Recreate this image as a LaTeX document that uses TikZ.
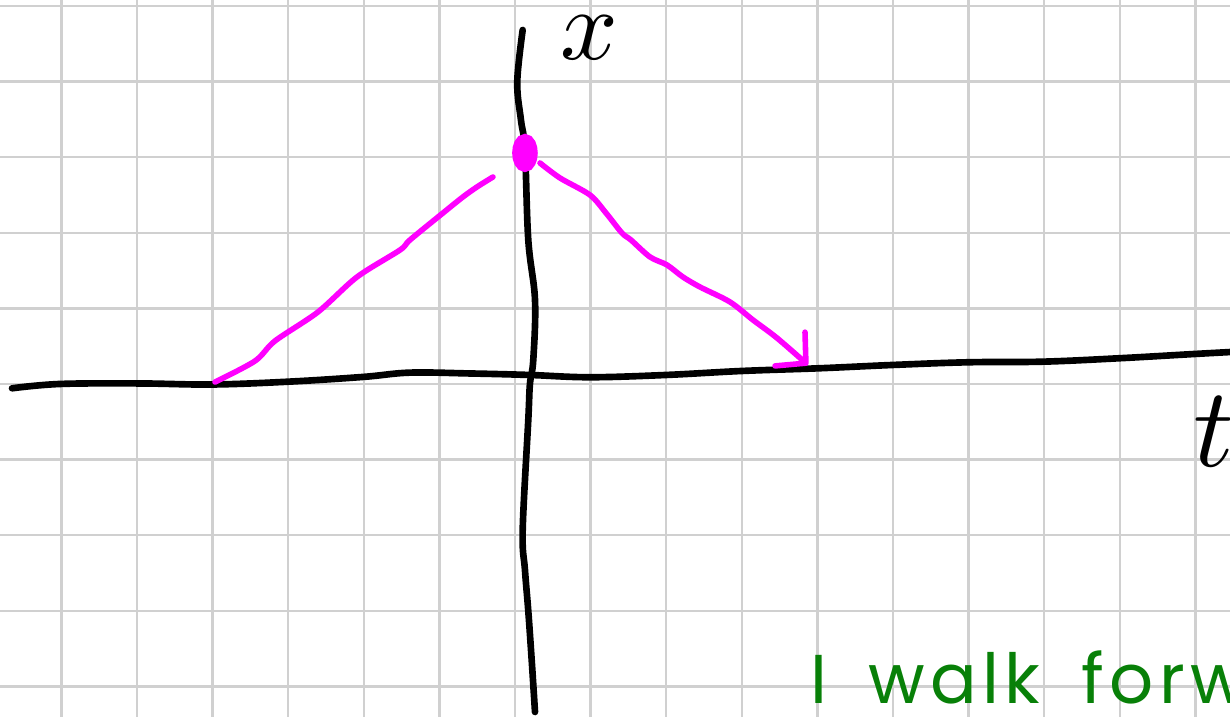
\documentclass[tikz,border=0pt]{standalone}
\usepackage{fontspec}
\newfontfamily\handfont[WordSpace=1.7,LetterSpace=8]{Poppins}
\usetikzlibrary{arrows.meta,shapes.geometric}
\definecolor{penpink}{RGB}{255,0,255}
\definecolor{pengreen}{RGB}{8,128,8}
\definecolor{gridgray}{RGB}{208,208,208}

\begin{document}
\begin{tikzpicture}[
  paper/.style={draw=gridgray,line width=0.9pt},
  axis/.style={line width=2.5pt,line cap=round,line join=round},
  walk/.style={draw=penpink,line width=2.1pt,line cap=round,line join=round},
  dot/.style={ellipse,draw=penpink,line width=4.8pt,inner sep=0pt,minimum width=0.17cm,minimum height=0.33cm},
  varlabel/.style={inner sep=0pt,scale=3.8,transform shape},
  note/.style={text=pengreen,anchor=base west,inner sep=0pt,
    font=\handfont\fontsize{26}{28}\selectfont}
]
  \useasboundingbox (-6.812,-4.405) rectangle (9.458,5.079);
  \clip (-6.812,-4.405) rectangle (9.458,5.079);
  \fill[white] (-6.812,-4.405) rectangle (9.458,5.079);
  \draw[paper] (-6.812,-4.405) grid (9.458,5.079);

  \draw[axis] plot[smooth,tension=0.6] coordinates {(-6.653,-0.057) (-6.019,0) (-4.96,0.007)
    (-4.008,-0.007) (-3.003,0.030) (-2.011,0.093) (-1.389,0.150) (-0.595,0.139) (0.198,0.119)
    (0.992,0.089) (1.997,0.119) (3.003,0.172) (4.034,0.208) (4.987,0.251) (5.992,0.287)
    (6.984,0.295) (7.989,0.340) (8.995,0.397) (9.6,0.43)};
  \draw[axis] plot[smooth,tension=0.6] coordinates {(0.102,4.683) (0.030,3.995) (0.079,3.492)
    (0.132,3.095) (0.176,1.905) (0.265,1.111) (0.242,0.317) (0.198,0) (0.176,-0.476)
    (0.102,-1.931) (0.132,-2.460) (0.176,-3.003) (0.221,-3.651) (0.265,-4.339)};

  \node[varlabel] (xlabel) at (0.99,4.58) {$x$};
  \node[varlabel,scale=1.12] (tlabel) at (9.24,-0.63) {$t$};

  \draw[walk] plot[smooth,tension=0.5] coordinates {(-3.968,0.026) (-3.439,0.304) (-3.175,0.569)
    (-2.606,0.952) (-2.090,1.415) (-1.521,1.772) (-1.389,1.905) (-0.952,2.262) (-0.688,2.474)
    (-0.503,2.606) (-0.291,2.738)};
  \draw[walk,-{Straight Barb[length=8pt,width=17pt,round]}] plot[smooth,tension=0.5] coordinates {
    (0.331,2.923) (0.595,2.725) (0.992,2.500) (1.204,2.262) (1.415,1.997) (1.534,1.905)
    (1.786,1.680) (2.011,1.574) (2.222,1.415) (2.447,1.283) (2.844,1.085) (3.148,0.847)
    (3.466,0.608) (3.876,0.251)};
  \node[dot] (peak) at (0.132,3.056) {};

  \node[note] (walknote) at (3.9,-4.23) {I walk forw};
\end{tikzpicture}
\end{document}
